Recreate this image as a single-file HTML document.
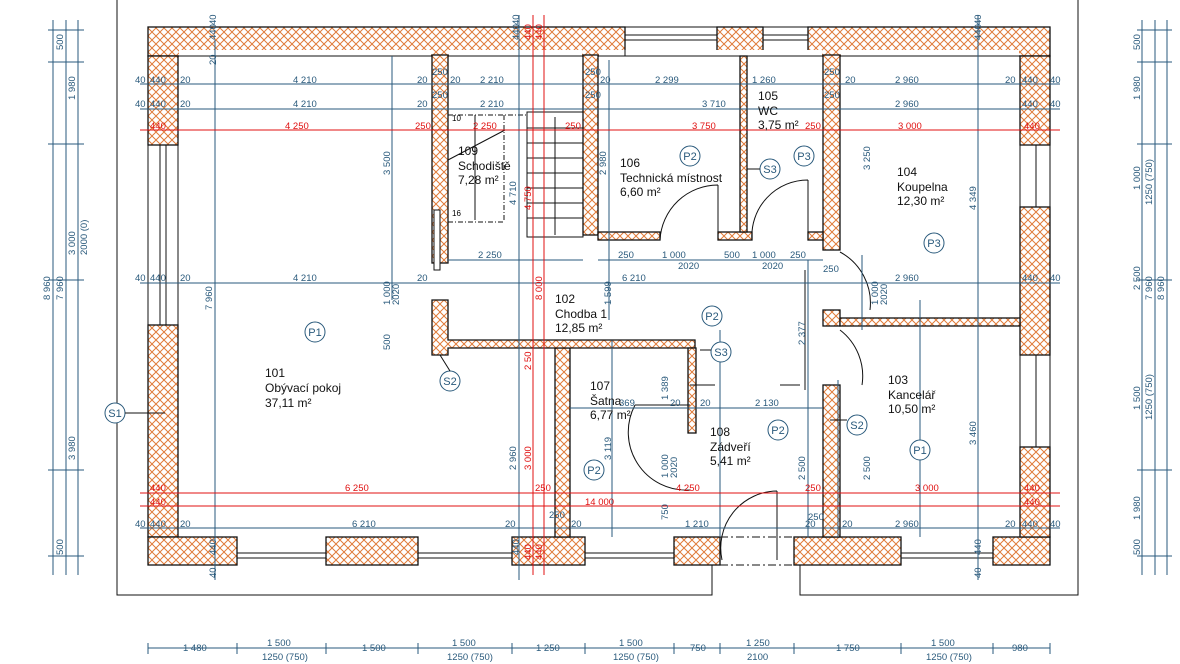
<!DOCTYPE html>
<html><head><meta charset="utf-8"><style>
html,body{margin:0;padding:0;background:#fff;}
svg{display:block;font-family:"Liberation Sans",sans-serif;}
.d{fill:#2a5a7c;font-size:9.5px;}
.r{fill:#e01010;font-size:9.5px;}
.t{fill:#111;font-size:12px;}
.bl{stroke:#2a5a7c;stroke-width:1;fill:none;}
.rl{stroke:#e01010;stroke-width:1;fill:none;}
.w{fill:url(#h);stroke:#111;stroke-width:1.3;}
.k{stroke:#111;stroke-width:1;fill:none;}
.c{fill:#fff;stroke:#2a5a7c;stroke-width:1;}
.ct{fill:#2a5a7c;font-size:11px;text-anchor:middle;}
</style></head><body>
<svg width="1180" height="664" viewBox="0 0 1180 664">
<defs>
<pattern id="h" width="8" height="8" patternUnits="userSpaceOnUse">
<rect width="8" height="8" fill="#fff"/>
<path d="M0 0L8 8M8 0L0 8" stroke="#e07b39" stroke-width="1"/>
</pattern>
</defs>
<!-- frame -->
<path class="k" d="M117 0V595H712V565M800 565V595H1078V0" stroke-width="1.3"/>
<!-- outer walls -->
<rect class="w" x="148" y="27" width="477" height="29"/>
<rect class="w" x="717" y="27" width="46" height="29"/>
<rect class="w" x="808" y="27" width="242" height="29"/>
<rect class="w" x="148" y="56" width="30" height="89"/>
<rect class="w" x="1020" y="56" width="30" height="89"/>
<rect class="w" x="432" y="55" width="16" height="208"/>
<rect class="w" x="583" y="55" width="15" height="180"/>
<rect class="w" x="823" y="55" width="17" height="195"/>
<rect fill="#fff" x="179" y="50" width="252" height="10"/>
<rect fill="#fff" x="449" y="50" width="133" height="10"/>
<rect fill="#fff" x="599" y="50" width="223" height="10"/>
<rect fill="#fff" x="841" y="50" width="178" height="10"/>
<path class="k" d="M178 145V56H432M448 56H583M598 56H823M840 56H1020V145" stroke-width="1.3"/>
<rect class="w" x="148" y="325" width="30" height="212"/>
<rect class="w" x="148" y="537" width="89" height="28"/>
<rect class="w" x="326" y="537" width="92" height="28"/>
<rect class="w" x="512" y="537" width="73" height="28"/>
<rect class="w" x="674" y="537" width="46" height="28"/>
<rect class="w" x="794" y="537" width="107" height="28"/>
<rect class="w" x="993" y="537" width="57" height="28"/>
<rect class="w" x="1020" y="207" width="30" height="148"/>
<rect class="w" x="1020" y="447" width="30" height="90"/>
<rect class="w" x="555" y="348" width="15" height="189"/>
<path class="w" d="M432 300H448V340H695V348H448V355H432Z"/>
<rect class="w" x="688" y="348" width="8" height="85"/>
<rect class="w" x="823" y="385" width="17" height="152"/>
<rect class="w" x="823" y="310" width="17" height="16"/>
<rect class="w" x="840" y="318" width="180" height="8"/>
<rect class="w" x="598" y="232" width="62" height="8"/>
<rect class="w" x="718" y="232" width="34" height="8"/>
<rect class="w" x="808" y="232" width="15" height="8"/>
<rect class="w" x="740" y="56" width="7" height="176"/>
<rect fill="#fff" stroke="#111" x="434" y="210" width="6" height="60"/>
<!-- windows -->
<g class="k">
<path d="M148 145V325M178 145V325M160 145V325M166 145V325"/>
<path d="M1020 145V207M1050 145V207M1036 145V207M1020 355V447M1050 355V447M1036 355V447"/>
<path d="M237 537V565M237 553H326M237 558H326M418 553H512M418 558H512M585 553H674M585 558H674M901 553H993M901 558H993"/>
<path d="M625 27H717M625 35H717M625 40H717M625 56V27M763 27H808M763 35H808M763 40H808"/>
</g>
<!-- stairs -->
<g class="k">
<path d="M527 112H583V237H527Z"/>
<path d="M527 128H583M527 143H583M527 158H583M527 173H583M527 188H583M527 203H583M527 218H583"/>
<path d="M448 115H527M448 222H504M504 115V222" stroke-dasharray="5 2 1 2"/>
<path d="M448 160L505 130M475 115V220M555 117V235"/>
</g>
<text x="452" y="121" font-size="8">10</text><text x="452" y="216" font-size="8">16</text>
<!-- doors -->
<g class="k">
<path d="M718 185V240M718 185A58 58 0 0 0 660 240"/>
<path d="M808 180V240M808 180A56 56 0 0 0 752 240"/>
<path d="M840 252A58 58 0 0 1 870 310M840 330A58 58 0 0 1 862 385"/>
<path d="M635 405H690M635 405A58 58 0 0 0 690 490"/>
<path d="M777 491V560M777 491A57 57 0 0 0 722 560"/>
<path d="M720 565H794M720 537H794" stroke-dasharray="8 3 2 3"/>
<path d="M690 385H715M780 385H800M805 270V390"/>
</g>
<!-- dimension lines -->
<g class="bl">
<path d="M140 84H1060M140 109H1060M140 283H1060M140 528H1060M448 260H583M598 260H823M570 408H823"/>
<path d="M215 40V580M392 56V300M519 15V580M609 60V320M612 340V537M720 330V537M808 260V537M838 380V537M920 300V537M978 15V580M862 255V330"/>
<path d="M53 20V575M66 20V575M78 20V575M1142 20V575M1155 20V575M1167 20V575"/>
<path d="M148 648H1050"/>
</g>
<g class="rl"><path d="M140 130H1060M140 493H1060M140 506H1060M533 15V575M544 15V575"/></g>
<!-- ticks -->
<g stroke="#2a5a7c">
<path d="M148 643V654M237 643V654M326 643V654M418 643V654M512 643V654M585 643V654M674 643V654M720 643V654M794 643V654M901 643V654M993 643V654M1050 643V654"/>
<path d="M48 30H84M48 62H84M48 144H84M48 280H84M48 470H84M48 556H84M1137 30H1172M1137 62H1172M1137 144H1172M1137 280H1172M1137 470H1172M1137 556H1172"/>
</g>
<!-- dims text -->
<g class="d">
<text x="135" y="83">40</text><text x="150" y="83">440</text><text x="180" y="83">20</text><text x="293" y="83">4 210</text><text x="417" y="83">20</text><text x="450" y="83">20</text><text x="480" y="83">2 210</text><text x="600" y="83">20</text><text x="655" y="83">2 299</text><text x="752" y="83">1 260</text><text x="845" y="83">20</text><text x="895" y="83">2 960</text><text x="1005" y="83">20</text><text x="1022" y="83">440</text><text x="1050" y="83">40</text>
<text x="135" y="107">40</text><text x="150" y="107">440</text><text x="180" y="107">20</text><text x="293" y="107">4 210</text><text x="417" y="107">20</text><text x="480" y="107">2 210</text><text x="702" y="107">3 710</text><text x="895" y="107">2 960</text><text x="1022" y="107">440</text><text x="1050" y="107">40</text>
<text x="135" y="281">40</text><text x="150" y="281">440</text><text x="180" y="281">20</text><text x="293" y="281">4 210</text><text x="417" y="281">20</text><text x="622" y="281">6 210</text><text x="895" y="281">2 960</text><text x="1022" y="281">440</text><text x="1050" y="281">40</text>
<text x="478" y="258">2 250</text><text x="618" y="258">250</text><text x="662" y="258">1 000</text><text x="724" y="258">500</text><text x="752" y="258">1 000</text><text x="790" y="258">250</text><text x="678" y="269">2020</text><text x="762" y="269">2020</text>
<text x="135" y="527">40</text><text x="150" y="527">440</text><text x="180" y="527">20</text><text x="352" y="527">6 210</text><text x="505" y="527">20</text><text x="571" y="527">20</text><text x="685" y="527">1 210</text><text x="805" y="527">20</text><text x="842" y="527">20</text><text x="895" y="527">2 960</text><text x="1005" y="527">20</text><text x="1022" y="527">440</text><text x="1050" y="527">40</text>
<text x="670" y="406">20</text><text x="700" y="406">20</text><text x="755" y="406">2 130</text><text x="619" y="406">369</text>
<text x="183" y="651">1 480</text><text x="267" y="646">1 500</text><text x="262" y="660">1250 (750)</text><text x="362" y="651">1 500</text><text x="452" y="646">1 500</text><text x="447" y="660">1250 (750)</text><text x="536" y="651">1 250</text><text x="619" y="646">1 500</text><text x="613" y="660">1250 (750)</text><text x="690" y="651">750</text><text x="746" y="646">1 250</text><text x="747" y="660">2100</text><text x="836" y="651">1 750</text><text x="931" y="646">1 500</text><text x="926" y="660">1250 (750)</text><text x="1012" y="651">980</text>
<text transform="translate(50,300) rotate(-90)">8 960</text><text transform="translate(63,300) rotate(-90)">7 960</text><text transform="translate(75,255) rotate(-90)">3 000</text><text transform="translate(87,255) rotate(-90)">2000 (0)</text><text transform="translate(75,460) rotate(-90)">3 980</text><text transform="translate(75,100) rotate(-90)">1 980</text><text transform="translate(63,555) rotate(-90)">500</text><text transform="translate(63,50) rotate(-90)">500</text>
<text transform="translate(1152,300) rotate(-90)">7 960</text><text transform="translate(1164,300) rotate(-90)">8 960</text><text transform="translate(1140,100) rotate(-90)">1 980</text><text transform="translate(1140,190) rotate(-90)">1 000</text><text transform="translate(1152,205) rotate(-90)">1250 (750)</text><text transform="translate(1140,290) rotate(-90)">2 500</text><text transform="translate(1140,410) rotate(-90)">1 500</text><text transform="translate(1152,420) rotate(-90)">1250 (750)</text><text transform="translate(1140,520) rotate(-90)">1 980</text><text transform="translate(1140,555) rotate(-90)">500</text><text transform="translate(1140,50) rotate(-90)">500</text>
<text transform="translate(212,310) rotate(-90)">7 960</text><text transform="translate(390,175) rotate(-90)">3 500</text><text transform="translate(390,305) rotate(-90)">1 000</text><text transform="translate(399,305) rotate(-90)">2020</text><text transform="translate(390,350) rotate(-90)">500</text><text transform="translate(516,205) rotate(-90)">4 710</text><text transform="translate(516,470) rotate(-90)">2 960</text><text transform="translate(606,175) rotate(-90)">2 980</text><text transform="translate(611,305) rotate(-90)">1 599</text><text transform="translate(611,460) rotate(-90)">3 119</text><text transform="translate(668,400) rotate(-90)">1 389</text><text transform="translate(668,478) rotate(-90)">1 000</text><text transform="translate(677,478) rotate(-90)">2020</text><text transform="translate(668,520) rotate(-90)">750</text><text transform="translate(805,345) rotate(-90)">2 377</text><text transform="translate(805,480) rotate(-90)">2 500</text><text transform="translate(870,170) rotate(-90)">3 250</text><text transform="translate(870,480) rotate(-90)">2 500</text><text transform="translate(976,210) rotate(-90)">4 349</text><text transform="translate(976,445) rotate(-90)">3 460</text><text transform="translate(878,305) rotate(-90)">1 000</text><text transform="translate(887,305) rotate(-90)">2020</text>
<text transform="translate(216,40) rotate(-90)">440</text><text transform="translate(216,65) rotate(-90)">20</text><text transform="translate(216,25) rotate(-90)">40</text><text transform="translate(519,40) rotate(-90)">440</text><text transform="translate(519,25) rotate(-90)">40</text><text transform="translate(981,40) rotate(-90)">440</text><text transform="translate(981,25) rotate(-90)">40</text><text transform="translate(216,555) rotate(-90)">440</text><text transform="translate(216,578) rotate(-90)">40</text><text transform="translate(519,555) rotate(-90)">440</text><text transform="translate(981,555) rotate(-90)">440</text><text transform="translate(981,578) rotate(-90)">40</text>
<text x="432" y="75">250</text><text x="432" y="98">250</text><text x="585" y="75">250</text><text x="585" y="98">250</text><text x="824" y="75">250</text><text x="824" y="98">250</text><text x="823" y="272">250</text><text x="549" y="518">250</text><text x="808" y="520">250</text>
</g>
<g class="r">
<text x="150" y="129">440</text><text x="285" y="129">4 250</text><text x="415" y="129">250</text><text x="473" y="129">2 250</text><text x="565" y="129">250</text><text x="692" y="129">3 750</text><text x="805" y="129">250</text><text x="898" y="129">3 000</text><text x="1024" y="129">440</text>
<text x="150" y="491">440</text><text x="345" y="491">6 250</text><text x="535" y="491">250</text><text x="676" y="491">4 250</text><text x="805" y="491">250</text><text x="915" y="491">3 000</text><text x="1024" y="491">440</text>
<text x="150" y="505">440</text><text x="585" y="505">14 000</text><text x="1024" y="505">440</text>
<text transform="translate(531,40) rotate(-90)">440</text><text transform="translate(542,40) rotate(-90)">440</text><text transform="translate(531,210) rotate(-90)">4 750</text><text transform="translate(542,300) rotate(-90)">8 000</text><text transform="translate(531,370) rotate(-90)">2 50</text><text transform="translate(531,470) rotate(-90)">3 000</text><text transform="translate(531,560) rotate(-90)">440</text><text transform="translate(542,560) rotate(-90)">440</text>
</g>
<!-- room labels -->
<g class="t">
<text x="265" y="377">101</text><text x="265" y="392">Obývací pokoj</text><text x="265" y="407">37,11 m²</text>
<text x="458" y="155">109</text><text x="458" y="170">Schodiště</text><text x="458" y="184">7,28 m²</text>
<text x="620" y="167">106</text><text x="620" y="182">Technická místnost</text><text x="620" y="196">6,60 m²</text>
<text x="758" y="100">105</text><text x="758" y="115">WC</text><text x="758" y="129">3,75 m²</text>
<text x="897" y="176">104</text><text x="897" y="191">Koupelna</text><text x="897" y="205">12,30 m²</text>
<text x="555" y="303">102</text><text x="555" y="318">Chodba 1</text><text x="555" y="332">12,85 m²</text>
<text x="590" y="390">107</text><text x="590" y="405">Šatna</text><text x="590" y="419">6,77 m²</text>
<text x="710" y="436">108</text><text x="710" y="451">Zádveří</text><text x="710" y="465">5,41 m²</text>
<text x="888" y="384">103</text><text x="888" y="399">Kancelář</text><text x="888" y="413">10,50 m²</text>
</g>
<!-- tags -->
<g>
<circle class="c" cx="315" cy="332" r="10"/><text class="ct" x="315" y="336">P1</text>
<circle class="c" cx="690" cy="156" r="10"/><text class="ct" x="690" y="160">P2</text>
<circle class="c" cx="804" cy="156" r="10"/><text class="ct" x="804" y="160">P3</text>
<circle class="c" cx="770" cy="169" r="10"/><text class="ct" x="770" y="173">S3</text>
<circle class="c" cx="934" cy="243" r="10"/><text class="ct" x="934" y="247">P3</text>
<circle class="c" cx="712" cy="316" r="10"/><text class="ct" x="712" y="320">P2</text>
<circle class="c" cx="721" cy="352" r="10"/><text class="ct" x="721" y="356">S3</text>
<circle class="c" cx="450" cy="381" r="10"/><text class="ct" x="450" y="385">S2</text>
<circle class="c" cx="778" cy="430" r="10"/><text class="ct" x="778" y="434">P2</text>
<circle class="c" cx="857" cy="425" r="10"/><text class="ct" x="857" y="429">S2</text>
<circle class="c" cx="920" cy="450" r="10"/><text class="ct" x="920" y="454">P1</text>
<circle class="c" cx="594" cy="470" r="10"/><text class="ct" x="594" y="474">P2</text>
<circle class="c" cx="115" cy="413" r="10"/><text class="ct" x="115" y="417">S1</text>
<path class="k" d="M125 413H165M747 169H760M700 350H711M440 355L450 371M830 420H847"/>
</g>
</svg>
</body></html>
